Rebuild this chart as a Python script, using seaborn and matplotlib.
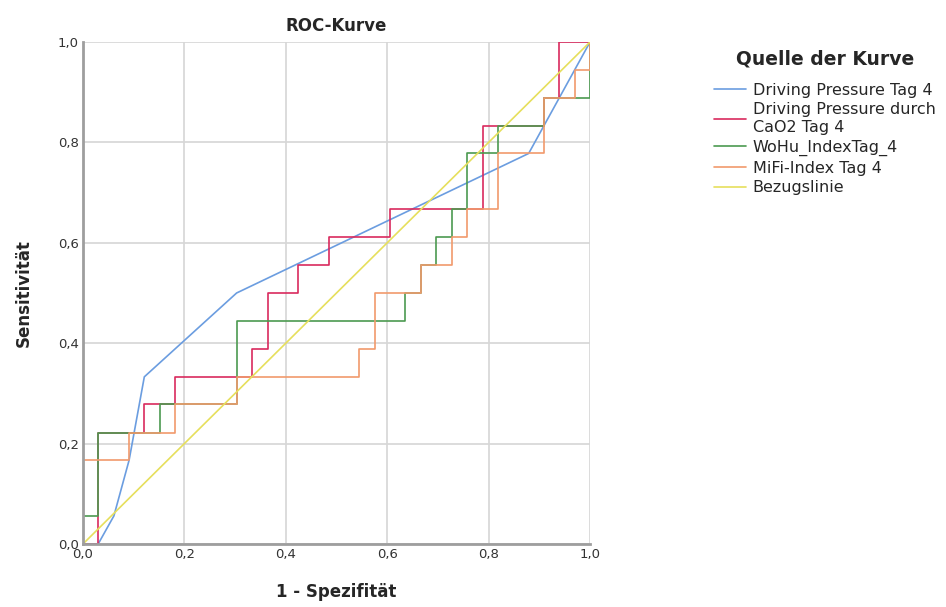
"""ROC curves for day-4 indices (SPSS style recreation)."""
import matplotlib
matplotlib.use("Agg")
import matplotlib.pyplot as plt
import pandas as pd
import seaborn as sns

# step vertices (1 - specificity, sensitivity)
dp_fpr = [0, 0.030, 0.061, 0.091, 0.121, 0.303, 0.879, 1.0]
dp_tpr = [0, 0, 0.056, 0.167, 0.333, 0.500, 0.778, 1.0]

dpc_fpr = [0, 0.030, 0.030, 0.121, 0.121, 0.182, 0.182, 0.333, 0.333, 0.364,
           0.364, 0.424, 0.424, 0.485, 0.485, 0.606, 0.606, 0.788, 0.788,
           0.909, 0.909, 0.939, 0.939, 1.0]
dpc_tpr = [0, 0, 0.222, 0.222, 0.278, 0.278, 0.333, 0.333, 0.389, 0.389,
           0.500, 0.500, 0.556, 0.556, 0.611, 0.611, 0.667, 0.667, 0.833,
           0.833, 0.889, 0.889, 1.0, 1.0]

wohu_fpr = [0, 0, 0.030, 0.030, 0.152, 0.152, 0.303, 0.303, 0.636, 0.636,
            0.667, 0.667, 0.697, 0.697, 0.727, 0.727, 0.758, 0.758, 0.818,
            0.818, 0.909, 0.909, 1.0, 1.0]
wohu_tpr = [0, 0.056, 0.056, 0.222, 0.222, 0.278, 0.278, 0.444, 0.444, 0.500,
            0.500, 0.556, 0.556, 0.611, 0.611, 0.667, 0.667, 0.778, 0.778,
            0.833, 0.833, 0.889, 0.889, 1.0]

mifi_fpr = [0, 0, 0.091, 0.091, 0.182, 0.182, 0.303, 0.303, 0.545, 0.545,
            0.576, 0.576, 0.667, 0.667, 0.727, 0.727, 0.758, 0.758, 0.818,
            0.818, 0.909, 0.909, 0.970, 0.970, 1.0, 1.0]
mifi_tpr = [0, 0.167, 0.167, 0.222, 0.222, 0.278, 0.278, 0.333, 0.333, 0.389,
            0.389, 0.500, 0.500, 0.556, 0.556, 0.611, 0.611, 0.667, 0.667,
            0.778, 0.778, 0.889, 0.889, 0.944, 0.944, 1.0]

ref_fpr = [0, 1.0]
ref_tpr = [0, 1.0]

labels = ["Driving Pressure Tag 4", "Driving Pressure durch\nCaO2 Tag 4",
          "WoHu_IndexTag_4", "MiFi-Index Tag 4", "Bezugslinie"]
colors = ["#6b9de0", "#d92a5e", "#4c9a50", "#f19a6c", "#e6df5c"]
ticks = [0.0, 0.2, 0.4, 0.6, 0.8, 1.0]

curves = [(dp_fpr, dp_tpr), (dpc_fpr, dpc_tpr), (wohu_fpr, wohu_tpr),
          (mifi_fpr, mifi_tpr), (ref_fpr, ref_tpr)]
frames = []
for lab, (fx, ty) in zip(labels, curves):
    frames.append(pd.DataFrame({"fpr": fx, "tpr": ty, "curve": lab}))
df = pd.concat(frames, ignore_index=True)

sns.set_theme(style="whitegrid")
plt.rcParams["font.family"] = ["DejaVu Sans"]

fig = plt.figure(figsize=(9.46, 6.07), dpi=100)
ax = fig.add_axes([0.0877, 0.1038, 0.536, 0.827])

# one call per curve so the step vertices are joined in their own order
for lab, col in zip(labels, colors):
    sub = df[df["curve"] == lab]
    sns.lineplot(data=sub, x="fpr", y="tpr", sort=False, estimator=None,
                 color=col, linewidth=1.2, ax=ax, label=lab)

ax.set_xlim(0, 1)
ax.set_ylim(0, 1)
ax.set_xticks(ticks)
ax.set_yticks(ticks)
tick_text = [f"{t:.1f}".replace(".", ",") for t in ticks]
ax.set_xticklabels(tick_text, fontsize=9.5, color="#333333")
ax.set_yticklabels(tick_text, fontsize=9.5, color="#333333")
ax.tick_params(length=0, pad=3)
ax.grid(True, color="#d6d6d6", linewidth=1.2)
for side in ["top", "right"]:
    ax.spines[side].set_visible(False)
for side in ["left", "bottom"]:
    ax.spines[side].set_color("#9e9e9e")
    ax.spines[side].set_linewidth(2)

ax.set_title("ROC-Kurve", fontsize=12, fontweight="bold", pad=8)
ax.set_xlabel("1 - Spezifität", fontsize=12, fontweight="bold", labelpad=16)
ax.set_ylabel("Sensitivität", fontsize=12, fontweight="bold", labelpad=18)

handles, labs = ax.get_legend_handles_labels()
ax.legend_.remove()
leg = fig.legend(handles, labs, loc="upper left",
                 bbox_to_anchor=(0.755, 0.918), frameon=False,
                 title="Quelle der Kurve", fontsize=11.5, handlelength=2.0,
                 handletextpad=0.4, labelspacing=0.3, borderaxespad=0,
                 borderpad=0)
leg.get_title().set_fontweight("bold")
leg.get_title().set_fontsize(13.5)
leg._legend_box.sep = 10

fig.savefig("out.png", dpi=100)
